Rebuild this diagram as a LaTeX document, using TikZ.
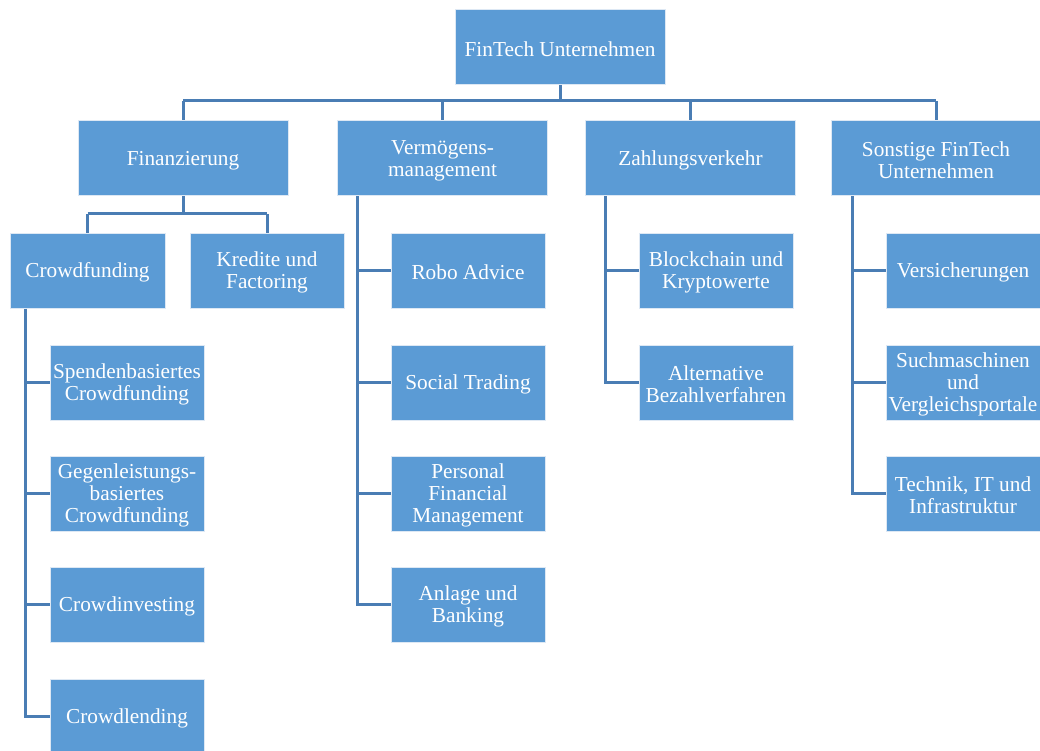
\documentclass[tikz,border=0pt]{standalone}
\usepackage{fontspec}
\setmainfont{Liberation Serif}
\definecolor{boxfill}{HTML}{5B9BD5}
\definecolor{boxedge}{HTML}{DDE8F4}
\definecolor{linkcol}{HTML}{4A7DB4}
\begin{document}
\begin{tikzpicture}[x=1pt,y=-1pt,
  box/.style={rectangle, fill=boxfill, draw=boxedge, line width=1pt,
    inner sep=0pt, minimum height=75pt},
  txt/.style={text=white, align=center, inner sep=0pt, yshift=-2pt,
    font=\fontsize{21.3pt}{22pt}\selectfont},
  wide/.style={box, minimum width=210pt, label={[txt]center:{#1}}},
  small/.style={box, minimum width=154pt, label={[txt]center:{#1}}},
  link/.style={draw=linkcol, line width=3pt}]
\clip (0,0) rectangle (1040,751);
\fill[white] (0,0) rectangle (1040,751);
% nodes
\node[wide={FinTech Unternehmen}] (root) at (560,47.5) {};
\node[wide={Finanzierung}] (fin) at (183,158.5) {};
\node[wide={Vermögens-\\management}] (verm) at (442.5,158.5) {};
\node[wide={Zahlungsverkehr}] (zahl) at (690.5,158.5) {};
\node[wide={Sonstige FinTech\\Unternehmen}] (sonst) at (936,158.5) {};
\node[small={Crowdfunding}, minimum width=155pt] (crowd) at (87.5,270.5) {};
\node[small={Kredite und\\Factoring}] (kred) at (267,270.5) {};
\node[small={Spendenbasiertes\\Crowdfunding}] (c1) at (127,382.5) {};
\node[small={Gegenleistungs-\\basiertes\\Crowdfunding}] (c2) at (127,493.5) {};
\node[small={Crowdinvesting}] (c3) at (127,604.5) {};
\node[small={Crowdlending}] (c4) at (127,716.5) {};
\node[small={Robo Advice}] (v1) at (468,270.5) {};
\node[small={Social Trading}] (v2) at (468,382.5) {};
\node[small={Personal\\Financial\\Management}] (v3) at (468,493.5) {};
\node[small={Anlage und\\Banking}] (v4) at (468,604.5) {};
\node[small={Blockchain und\\Kryptowerte}] (z1) at (716,270.5) {};
\node[small={Alternative\\Bezahlverfahren}] (z2) at (716,382.5) {};
\node[small={Versicherungen}] (s1) at (963,270.5) {};
\node[small={Suchmaschinen\\und\\Vergleichsportale}] (s2) at (963,382.5) {};
\node[small={Technik, IT und\\Infrastruktur}] (s3) at (963,493.5) {};
% bus coordinates
\coordinate (bus1) at (0,101);
\coordinate (bus2) at (0,214);
\coordinate (spC) at (25,0);
\coordinate (spV) at (357,0);
\coordinate (spZ) at (605,0);
\coordinate (spS) at (852,0);
% root to level 1
\draw[link] (root.south) -- (root.south |- bus1);
\draw[link] (fin.north |- bus1) -- (sonst.north |- bus1);
\foreach \n in {fin,verm,zahl,sonst} \draw[link] (\n.north |- bus1) -- (\n.north);
% Finanzierung
\draw[link] (fin.south) -- (fin.south |- bus2);
\draw[link] (crowd.north |- bus2) -- (kred.north |- bus2);
\draw[link] (crowd.north |- bus2) -- (crowd.north);
\draw[link] (kred.north |- bus2) -- (kred.north);
% Crowdfunding
\draw[link] (spC |- crowd.south) |- (c4.west);
\foreach \n in {c1,c2,c3} \draw[link] (spC |- \n.west) -- (\n.west);
% Vermoegensmanagement
\draw[link] (spV |- verm.south) |- (v4.west);
\foreach \n in {v1,v2,v3} \draw[link] (spV |- \n.west) -- (\n.west);
% Zahlungsverkehr
\draw[link] (spZ |- zahl.south) |- (z2.west);
\draw[link] (spZ |- z1.west) -- (z1.west);
% Sonstige
\draw[link] (spS |- sonst.south) |- (s3.west);
\foreach \n in {s1,s2} \draw[link] (spS |- \n.west) -- (\n.west);
\end{tikzpicture}
\end{document}
